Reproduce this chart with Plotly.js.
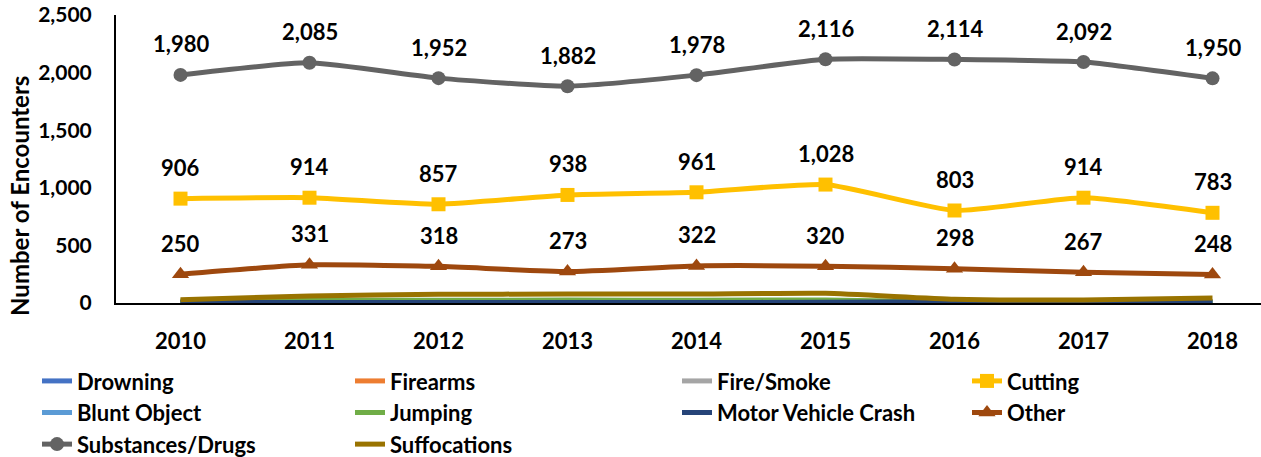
<!DOCTYPE html>
<html>
<head>
<meta charset="utf-8">
<script src="https://cdn.plot.ly/plotly-3.0.1.min.js"></script>
<style>html,body{margin:0;padding:0;background:#fff;}#chart{width:1261px;height:457px;}</style>
</head>
<body>
<div id="chart"></div>
<script>
const years = ['2010','2011','2012','2013','2014','2015','2016','2017','2018'];
const drowning = [8,10,9,7,8,9,5,6,7];
const firearms = [10,12,11,9,10,12,6,7,8];
const fireSmoke = [6,7,8,6,7,8,4,5,6];
const cutting = [906,914,857,938,961,1028,803,914,783];
const bluntObject = [5,6,5,6,7,6,3,4,5];
const jumping = [18,22,24,25,24,26,8,7,9];
const motorVehicle = [4,5,5,4,5,6,10,9,6];
const other = [250,331,318,273,322,320,298,267,248];
const substances = [1980,2085,1952,1882,1978,2116,2114,2092,1950];
const suffocations = [29,61,75,78,78,84,32,26,43];

const FONT = 'Lato, "Open Sans", sans-serif';

function fmt(v) { return String(v).replace(/\B(?=(\d{3})+(?!\d))/g, ','); }

function series(name, y, color, legendId, symbol, msize) {
  const t = {
    x: years, y: y, name: name, type: 'scatter',
    mode: symbol ? 'lines+markers' : 'lines',
    line: {color: color, width: 5, shape: 'spline', smoothing: 0.5},
    legend: legendId,
    hoverinfo: 'skip'
  };
  if (symbol) t.marker = {symbol: symbol, size: msize, color: color};
  return t;
}

const traces = [
  series('Drowning', drowning, '#4472C4', 'legend'),
  series('Firearms', firearms, '#ED7D31', 'legend2'),
  series('Fire/Smoke', fireSmoke, '#A5A5A5', 'legend3'),
  series('Cutting', cutting, '#FFC000', 'legend4', 'square', 14),
  series('Blunt Object', bluntObject, '#5B9BD5', 'legend'),
  series('Jumping', jumping, '#70AD47', 'legend2'),
  series('Motor Vehicle Crash', motorVehicle, '#264478', 'legend3'),
  series('Other', other, '#9E480E', 'legend4', 'triangle-up', 15),
  series('Substances/Drugs', substances, '#636363', 'legend', 'circle', 14),
  series('Suffocations', suffocations, '#997300', 'legend2')
];

const annotations = [];
[substances, cutting, other].forEach(arr => {
  arr.forEach((v, i) => {
    annotations.push({
      x: i, y: v, xref: 'x', yref: 'y',
      text: '<b>' + fmt(v) + '</b>',
      showarrow: false, yshift: 31,
      font: {family: FONT, size: 22, color: '#000'}
    });
  });
});
annotations.push({
  xref: 'paper', yref: 'paper', x: -0.0838, y: 0.372,
  xanchor: 'center', yanchor: 'middle', textangle: -90, showarrow: false,
  text: '<b>Number of Encounters</b>',
  font: {family: FONT, size: 24, color: '#000'}
});

const legendFont = {family: FONT, size: 22, color: '#000', weight: 700};
function leg(xpx) {
  return {
    orientation: 'v', xref: 'container', yref: 'container',
    x: xpx / 1261, y: 0.212, xanchor: 'left', yanchor: 'top',
    font: legendFont, bgcolor: 'rgba(0,0,0,0)', tracegroupgap: 0
  };
}

const layout = {
  width: 1261, height: 457,
  margin: {l: 116, r: 0, t: 15, b: 154, autoexpand: false},
  paper_bgcolor: '#fff', plot_bgcolor: '#fff',
  showlegend: true,
  xaxis: {
    type: 'category', range: [-0.5, 8.376],
    showgrid: false, zeroline: false,
    showline: true, linecolor: '#000', linewidth: 2,
    ticks: '', ticklabelstandoff: 18,
    tickfont: {family: FONT, size: 22, color: '#000', weight: 700}
  },
  yaxis: {
    range: [0, 2500], tickvals: [0, 500, 1000, 1500, 2000, 2500],
    tickformat: ',', showgrid: false, zeroline: false,
    showline: true, linecolor: '#000', linewidth: 2,
    ticks: '', ticklabelstandoff: 18,
    tickfont: {family: FONT, size: 21, color: '#000', weight: 700}
  },
  legend: leg(37),
  legend2: leg(350),
  legend3: leg(677),
  legend4: leg(967),
  annotations: annotations
};

Plotly.newPlot('chart', traces, layout, {displayModeBar: false, staticPlot: true});
</script>
</body>
</html>
